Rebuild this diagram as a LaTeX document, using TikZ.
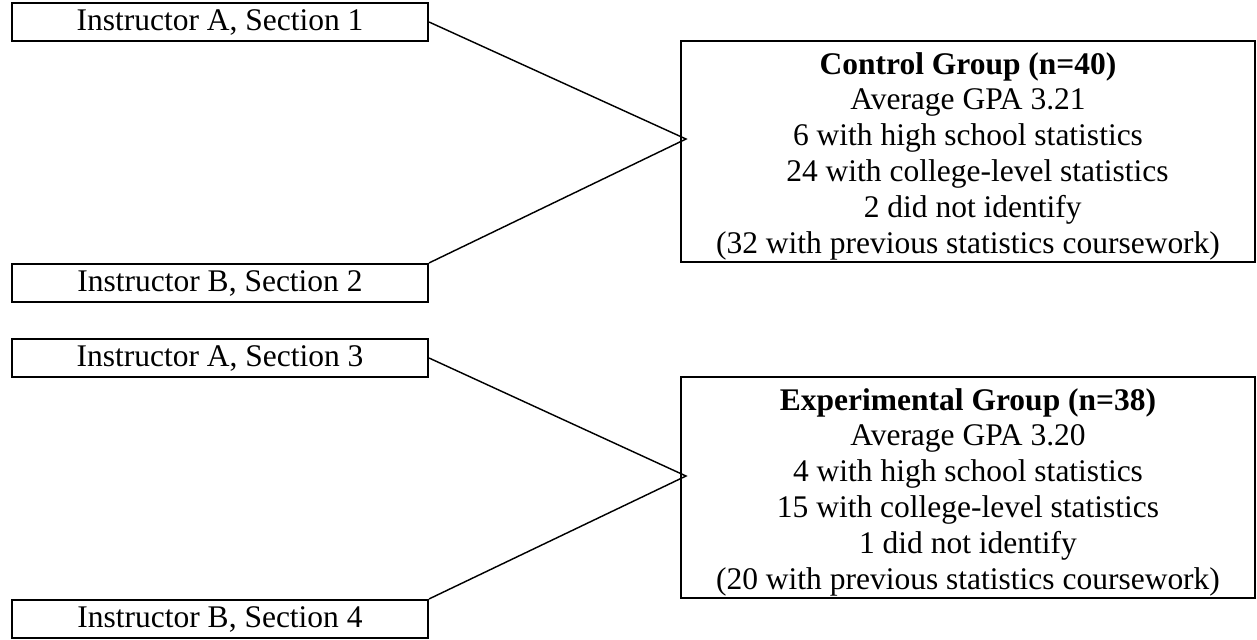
\documentclass[tikz,border=0pt]{standalone}
\usepackage{fontspec}
\setmainfont{Liberation Serif}
\usepackage{tikz}

\begin{document}
\begin{tikzpicture}[x=0.381pt, y=-0.381pt,
    secbox/.style={draw, line width=0.8pt, minimum width=158.5pt, minimum height=14.5pt, inner sep=0pt,
      font=\fontsize{12}{13.7}\selectfont},
    groupbox/.style={draw, line width=0.8pt, minimum width=218.7pt, minimum height=84.2pt, inner sep=0pt,
      align=center, font=\fontsize{12}{13.7}\selectfont},
    link/.style={line width=0.55pt, line join=miter}]
    \useasboundingbox (0, 0) rectangle (1257, 639);

    \node[secbox] (sec1) at (220, 22) {Instructor A, Section 1};
    \node[secbox] (sec2) at (220, 283) {Instructor B, Section 2};
    \node[secbox] (sec3) at (220, 358) {Instructor A, Section 3};
    \node[secbox] (sec4) at (220, 619) {Instructor B, Section 4};

    \node[groupbox] (ctrl) at (968, 151.5) {\rule{0pt}{12pt}\textbf{Control Group (n=40)}\\
      Average GPA 3.21\\
      6 with high school statistics\\
      \hspace*{0.6em}24 with college-level statistics\\
      \hspace*{0.3em}2 did not identify\\
      (32 with previous statistics coursework)};
    \node[groupbox] (expt) at (968, 487.5) {\rule{0pt}{12pt}\textbf{Experimental Group (n=38)}\\
      Average GPA 3.20\\
      4 with high school statistics\\
      15 with college-level statistics\\
      1 did not identify\\
      (20 with previous statistics coursework)};

    \coordinate (meeta) at (686, 139);
    \coordinate (meetb) at (686, 476);

    \draw[link] (sec1.east) -- (meeta) -- (sec2.north east);
    \draw[link] (sec3.east) -- (meetb) -- (sec4.north east);
  \end{tikzpicture}
\end{document}
